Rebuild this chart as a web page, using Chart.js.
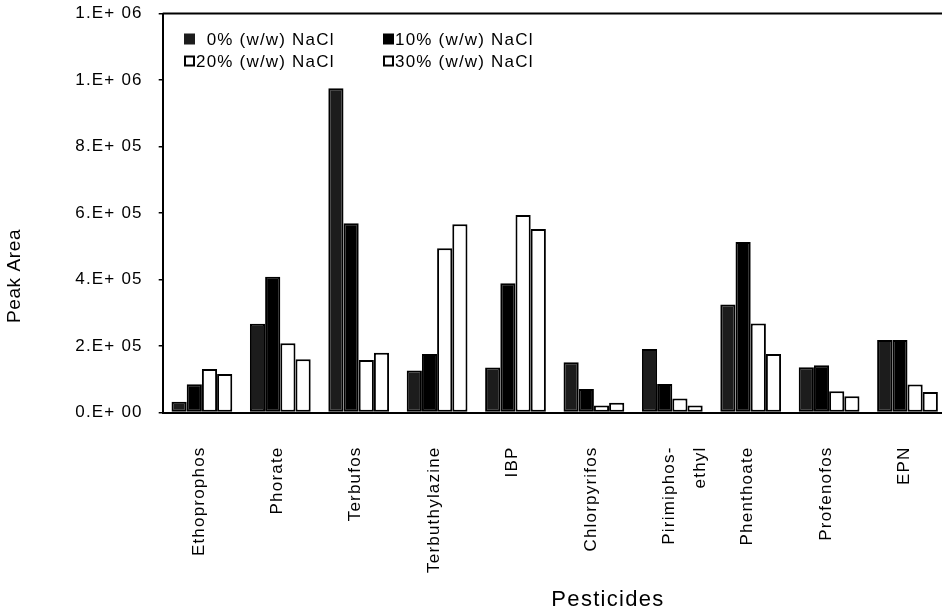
<!DOCTYPE html>
<html><head><meta charset="utf-8">
<script src="https://cdn.jsdelivr.net/npm/chart.js@4.4.0/dist/chart.umd.min.js"></script>
<style>
html,body{margin:0;padding:0;background:#fff;overflow:hidden;}
#wrap{position:relative;width:950px;height:615px;}
canvas{display:block;}
</style></head><body>
<div id="wrap"><canvas id="c" width="950" height="615"></canvas></div>
<script>
// ---- data ----
const categories = ['Ethoprophos','Phorate','Terbufos','Terbuthylazine','IBP','Chlorpyrifos',['Pirimiphos-','ethyl'],'Phenthoate','Profenofos','EPN'];
const seriesLabels = ['0% (w/w) NaCl','10% (w/w) NaCl','20% (w/w) NaCl','30% (w/w) NaCl'];
const nacl0  = [32000, 267000, 975000, 126000, 135000, 151000, 191000, 325000, 136000, 218000];
const nacl10 = [85000, 408000, 569000, 176000, 389000, 71000, 86000, 513000, 142000, 218000];
const nacl20 = [131000, 208000, 158000, 494000, 594000, 21000, 42000, 268000, 64000, 84000];
const nacl30 = [116000, 160000, 180000, 566000, 552000, 29000, 21000, 176000, 49000, 62000];
const yTickLabels = ['0.E+ 00','2.E+ 05','4.E+ 05','6.E+ 05','8.E+ 05','1.E+ 06','1.E+ 06'];
const xTitle = 'Pesticides';
const yTitle = 'Peak Area';

const FONT = "'Liberation Sans', Arial, Helvetica, sans-serif";

const spacingPlugin = {
  id: 'spacing',
  beforeLayout(chart){ chart.ctx.letterSpacing = '1.2px'; },
  beforeDraw(chart){ chart.ctx.letterSpacing = '1.2px'; }
};

const decorPlugin = {
  id: 'decor',
  afterDraw(chart){
    const ctx = chart.ctx, a = chart.chartArea;
    ctx.save();
    // frame (top and right)
    ctx.strokeStyle = '#000'; ctx.lineWidth = 2;
    ctx.beginPath();
    ctx.moveTo(a.left, a.top); ctx.lineTo(a.right, a.top); ctx.lineTo(a.right, a.bottom);
    ctx.stroke();
    // legend
    ctx.font = '17px ' + FONT;
    ctx.letterSpacing = '1.2px';
    ctx.textBaseline = 'middle'; ctx.textAlign = 'left';
    const cols = [184, 383], rows = [39, 61], bs = 11;
    chart.data.datasets.forEach((ds, i) => {
      const x = cols[i % 2], y = rows[Math.floor(i / 2)];
      ctx.fillStyle = ds.backgroundColor;
      ctx.fillRect(x, y - bs/2, bs, bs);
      if (ds.backgroundColor === '#ffffff') {
        ctx.strokeStyle = '#000'; ctx.lineWidth = 2;
        ctx.strokeRect(x + 1, y - bs/2 + 1, bs - 2, bs - 2);
      }
      ctx.fillStyle = '#000';
      let tx = x + bs + 1;
      if (/^\d%/.test(ds.label)) tx += ctx.measureText('0').width;
      ctx.fillText(ds.label, tx, y + 1);
    });
    // axis titles
    ctx.font = '22px ' + FONT; ctx.letterSpacing = '1.3px';
    ctx.textAlign = 'center'; ctx.textBaseline = 'middle';
    ctx.fillText(xTitle, 608, 600);
    ctx.font = '19px ' + FONT; ctx.letterSpacing = '0.6px';
    ctx.translate(15, 276); ctx.rotate(-Math.PI/2);
    ctx.fillText(yTitle, 0, 0);
    ctx.restore();
  }
};

const mk = (label, data, bg) => ({
  label, data, backgroundColor: bg, borderColor: '#000', borderWidth: 2, borderSkipped: false,
  categoryPercentage: 0.775, barPercentage: 1.0
});

new Chart(document.getElementById('c'), {
  type: 'bar',
  data: {
    labels: categories,
    datasets: [
      mk(seriesLabels[0], nacl0, '#1c1c1c'),
      mk(seriesLabels[1], nacl10, '#000000'),
      mk(seriesLabels[2], nacl20, '#ffffff'),
      mk(seriesLabels[3], nacl30, '#ffffff')
    ]
  },
  options: {
    responsive: false, animation: false, devicePixelRatio: 1,
    layout: { padding: { left: 0, top: 13.5, right: 3.3, bottom: 0 } },
    plugins: { legend: { display: false }, tooltip: { enabled: false } },
    scales: {
      x: {
        grid: { display: false },
        border: { display: true, color: '#000', width: 2 },
        ticks: {
          autoSkip: false, minRotation: 90, maxRotation: 90, padding: 26, labelOffset: -3,
          color: '#000', font: { family: FONT, size: 17, lineHeight: 1.8 }
        },
        afterFit(s){ s.height = 615 - 412.5; s.paddingLeft = 0; s.paddingRight = 0; }
      },
      y: {
        min: 0, max: 1200000,
        grid: { display: true, drawOnChartArea: false, tickLength: 4, color: '#000', lineWidth: 1.5 },
        border: { display: true, color: '#000', width: 2 },
        ticks: {
          stepSize: 200000, padding: 16, color: '#000',
          font: { family: FONT, size: 17 },
          callback: (v, i) => yTickLabels[i]
        },
        afterFit(s){ s.width = 162.7; s.paddingTop = 0; s.paddingBottom = 0; }
      }
    }
  },
  plugins: [spacingPlugin, decorPlugin]
});
</script>
</body></html>
